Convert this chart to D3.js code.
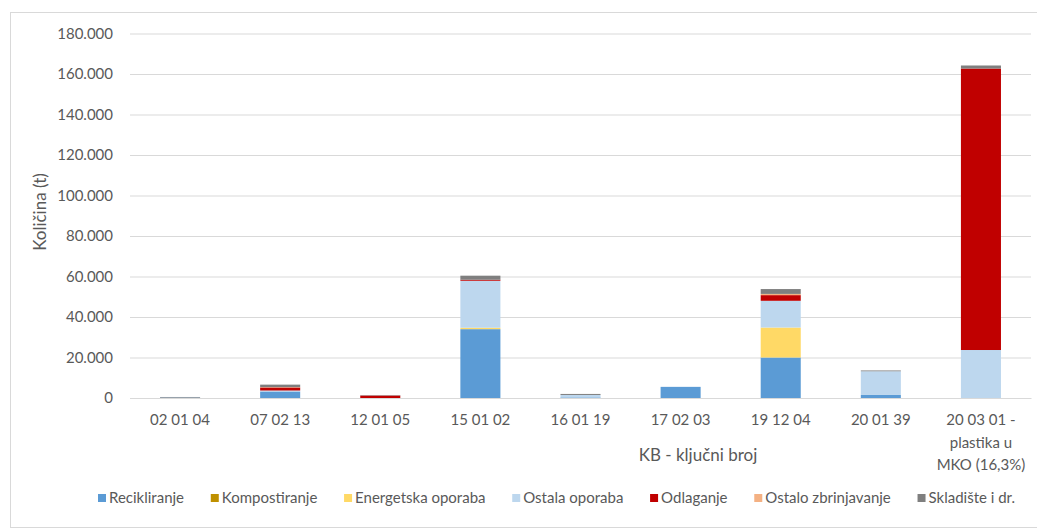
<!DOCTYPE html>
<html><head><meta charset="utf-8">
<script src="https://cdn.jsdelivr.net/npm/d3@7"></script>
<style>body{margin:0;background:#fff}svg{display:block}text{font-family:Lato,"Open Sans",sans-serif}</style>
</head><body><svg id="c" width="1037" height="531"></svg>
<script>
const categories = ["02 01 04","07 02 13","12 01 05","15 01 02","16 01 19","17 02 03","19 12 04","20 01 39","20 03 01 - plastika u MKO (16,3%)"];
const categoryLines = [["02 01 04"],["07 02 13"],["12 01 05"],["15 01 02"],["16 01 19"],["17 02 03"],["19 12 04"],["20 01 39"],["20 03 01 -","plastika u","MKO (16,3%)"]];
const seriesNames = ["Recikliranje","Kompostiranje","Energetska oporaba","Ostala oporaba","Odlaganje","Ostalo zbrinjavanje","Skladište i dr."];
const seriesColors = ["#5B9BD5","#BF9000","#FFD966","#BDD7EE","#C00000","#F4B183","#7F7F7F"];
const recikliranje      = [200, 3200, 0, 34000, 300, 5500, 20000, 1500, 0];
const kompostiranje     = [0, 0, 0, 0, 0, 0, 0, 0, 0];
const energetska        = [0, 0, 0, 700, 0, 0, 14800, 0, 0];
const ostalaOporaba     = [0, 500, 0, 23200, 1200, 0, 13200, 11700, 23700];
const odlaganje         = [0, 1500, 1200, 500, 0, 0, 2800, 0, 139000];
const ostaloZbrinjavanje= [0, 200, 0, 0, 0, 0, 600, 0, 0];
const skladiste         = [300, 1200, 200, 2000, 500, 0, 2400, 400, 1500];
const yTicks = [0,20000,40000,60000,80000,100000,120000,140000,160000,180000];
const yTitle = "Količina (t)";
const xTitle = "KB - ključni broj";

const seriesValues = [recikliranje,kompostiranje,energetska,ostalaOporaba,odlaganje,ostaloZbrinjavanje,skladiste];
const rows = categories.map((c,i)=>{const r={cat:c};seriesNames.forEach((s,j)=>r[s]=seriesValues[j][i]);return r;});
const stacked = d3.stack().keys(seriesNames)(rows);

const svg = d3.select("#c");
const txt = "#595959", grid = "#D9D9D9";
svg.append("rect").attr("x",10.5).attr("y",12.5).attr("width",1040).attr("height",515).attr("fill","none").attr("stroke",grid);

const x = d3.scaleBand().domain(categories).range([130,1031]).paddingInner(0.6).paddingOuter(0.3);
const y = d3.scaleLinear().domain([0,180000]).range([398,33.5]);
const fmt = v => v===0 ? "0" : d3.format(",")(v).replace(/,/g,".");

const ya = svg.append("g").attr("transform","translate(130,0)").call(d3.axisLeft(y).tickValues(yTicks).tickSize(-901).tickFormat(fmt).tickPadding(17));
ya.select(".domain").remove();
ya.selectAll("line").attr("stroke",grid);
ya.selectAll("text").attr("fill",txt).style("font-size","15px");

svg.append("g").selectAll("g").data(stacked).join("g").attr("fill",(d,i)=>seriesColors[i])
  .selectAll("rect").data(d=>d.filter(p=>p[1]-p[0]>0)).join("rect")
  .attr("x",d=>x(d.data.cat)).attr("width",x.bandwidth())
  .attr("y",d=>y(d[1])).attr("height",d=>y(d[0])-y(d[1]));

const xa = svg.append("g").attr("transform","translate(0,398)").call(d3.axisBottom(x).tickSize(0).tickFormat(""));
xa.select(".domain").attr("stroke",grid);
categories.forEach((c,i)=>{
  const t = svg.append("text").attr("x",x(c)+x.bandwidth()/2).attr("y",425).attr("text-anchor","middle").attr("fill",txt).style("font-size","15px");
  categoryLines[i].forEach((l,k)=>t.append("tspan").attr("x",x(c)+x.bandwidth()/2).attr("dy",k?22.5:0).text(l));
});

svg.append("text").attr("transform","translate(46,212) rotate(-90)").attr("text-anchor","middle").attr("fill",txt).style("font-size","17px").text(yTitle);
svg.append("text").attr("x",698).attr("y",461).attr("text-anchor","middle").attr("fill",txt).style("font-size","17px").text(xTitle);

const lg = svg.append("g").attr("transform","translate(0,503)");
const items = seriesNames.map((s,i)=>{
  const g = lg.append("g");
  g.append("rect").attr("x",0).attr("y",-9).attr("width",8).attr("height",8).attr("fill",seriesColors[i]);
  const t = g.append("text").attr("x",11).attr("y",0).attr("fill",txt).style("font-size","15px").text(s);
  return {g, w: 11 + t.node().getComputedTextLength()};
});
const start = 98, end = 1015;
const sumW = d3.sum(items, d=>d.w);
const gap = (end - start - sumW)/(items.length-1);
let cx = start;
items.forEach(it=>{it.g.attr("transform",`translate(${cx},0)`); cx += it.w + gap;});
</script></body></html>
